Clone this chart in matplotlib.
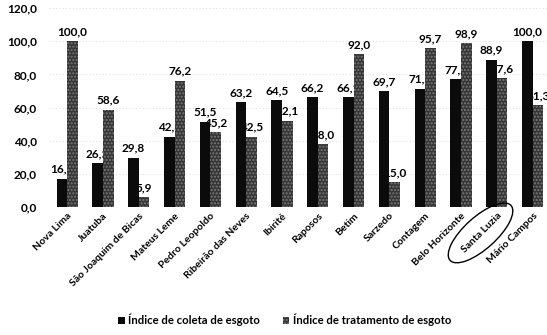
import numpy as np
import matplotlib.pyplot as plt
from matplotlib.patches import Ellipse
from matplotlib.transforms import IdentityTransform

plt.rcParams['font.family'] = ['Lato', 'DejaVu Sans']
num_font = ['Liberation Sans Narrow', 'Lato']

# 数据
municipios = ['Nova Lima', 'Juatuba', 'São Joaquim de Bicas', 'Mateus Leme',
              'Pedro Leopoldo', 'Ribeirão das Neves', 'Ibirité', 'Raposos',
              'Betim', 'Sarzedo', 'Contagem', 'Belo Horizonte', 'Santa Luzia',
              'Mário Campos']
coleta = [16.9, 26.5, 29.8, 42.3, 51.5, 63.2, 64.5, 66.2, 66.1, 69.7, 71.2,
          77.2, 88.9, 100.0]
tratamento = [100.0, 58.6, 5.9, 76.2, 45.2, 42.5, 52.1, 38.0, 92.0, 15.0,
              95.7, 98.9, 77.6, 61.3]
serie_nomes = ['Índice de coleta de esgoto', 'Índice de tratamento de esgoto']
yticks = [0, 20, 40, 60, 80, 100, 120]

fig = plt.figure(figsize=(5.47, 3.35), dpi=100)
ax = fig.add_axes([0.09, 0.382, 0.91, 0.594])

x = np.arange(len(municipios))
w = 0.295
b1 = ax.bar(x - w / 2, coleta, width=w, color='#0b0b0b', zorder=3,
            label=serie_nomes[0])
b2 = ax.bar(x + w / 2, tratamento, width=w, color='#353535', zorder=3,
            hatch='.....', edgecolor='#7a7a7a', linewidth=0,
            label=serie_nomes[1])

# 数值标签，放在柱子下层
for bars, vals in [(b1, coleta), (b2, tratamento)]:
    for r, v in zip(bars, vals):
        ax.annotate(f'{v:.1f}'.replace('.', ','),
                    (r.get_x() + r.get_width() / 2, v),
                    xytext=(0, 3), textcoords='offset points',
                    ha='center', va='bottom', fontsize=8.5,
                    fontweight='bold', family=num_font, zorder=2)

ax.set_ylim(0, 120)
ax.set_xlim(-0.5, 13.4)
ax.set_yticks(yticks)
ax.set_yticklabels([f'{t:.1f}'.replace('.', ',') for t in yticks],
                   fontsize=8.5, fontweight='bold', family=num_font)
ax.set_xticks(x)
ax.set_xticklabels(municipios, rotation=45, ha='right',
                   rotation_mode='anchor', fontsize=7.5, fontweight='bold')
ax.tick_params(axis='y', length=0, pad=9)
ax.tick_params(axis='x', length=0, pad=3)
ax.grid(axis='y', linestyle=(0, (1, 3)), color='#d0d0d0', linewidth=0.6,
        zorder=0)
for s in ax.spines.values():
    s.set_visible(False)

fig.legend(handles=[b1, b2], loc='lower center', ncol=2, frameon=False,
           bbox_to_anchor=(0.52, -0.005),
           prop={'size': 8.2, 'weight': 'bold'}, handlelength=0.6,
           handleheight=0.6, handletextpad=0.3, columnspacing=2.0)

# 圈出 Santa Luzia
fig.canvas.draw()
lab = ax.get_xticklabels()[municipios.index('Santa Luzia')]
bb = lab.get_window_extent()
ell = Ellipse(((bb.x0 + bb.x1) / 2 - 1, (bb.y0 + bb.y1) / 2), width=82,
              height=32, angle=42, transform=IdentityTransform(),
              fill=False, edgecolor='black', linewidth=1.0)
fig.add_artist(ell)

fig.savefig('out.png', dpi=100)
